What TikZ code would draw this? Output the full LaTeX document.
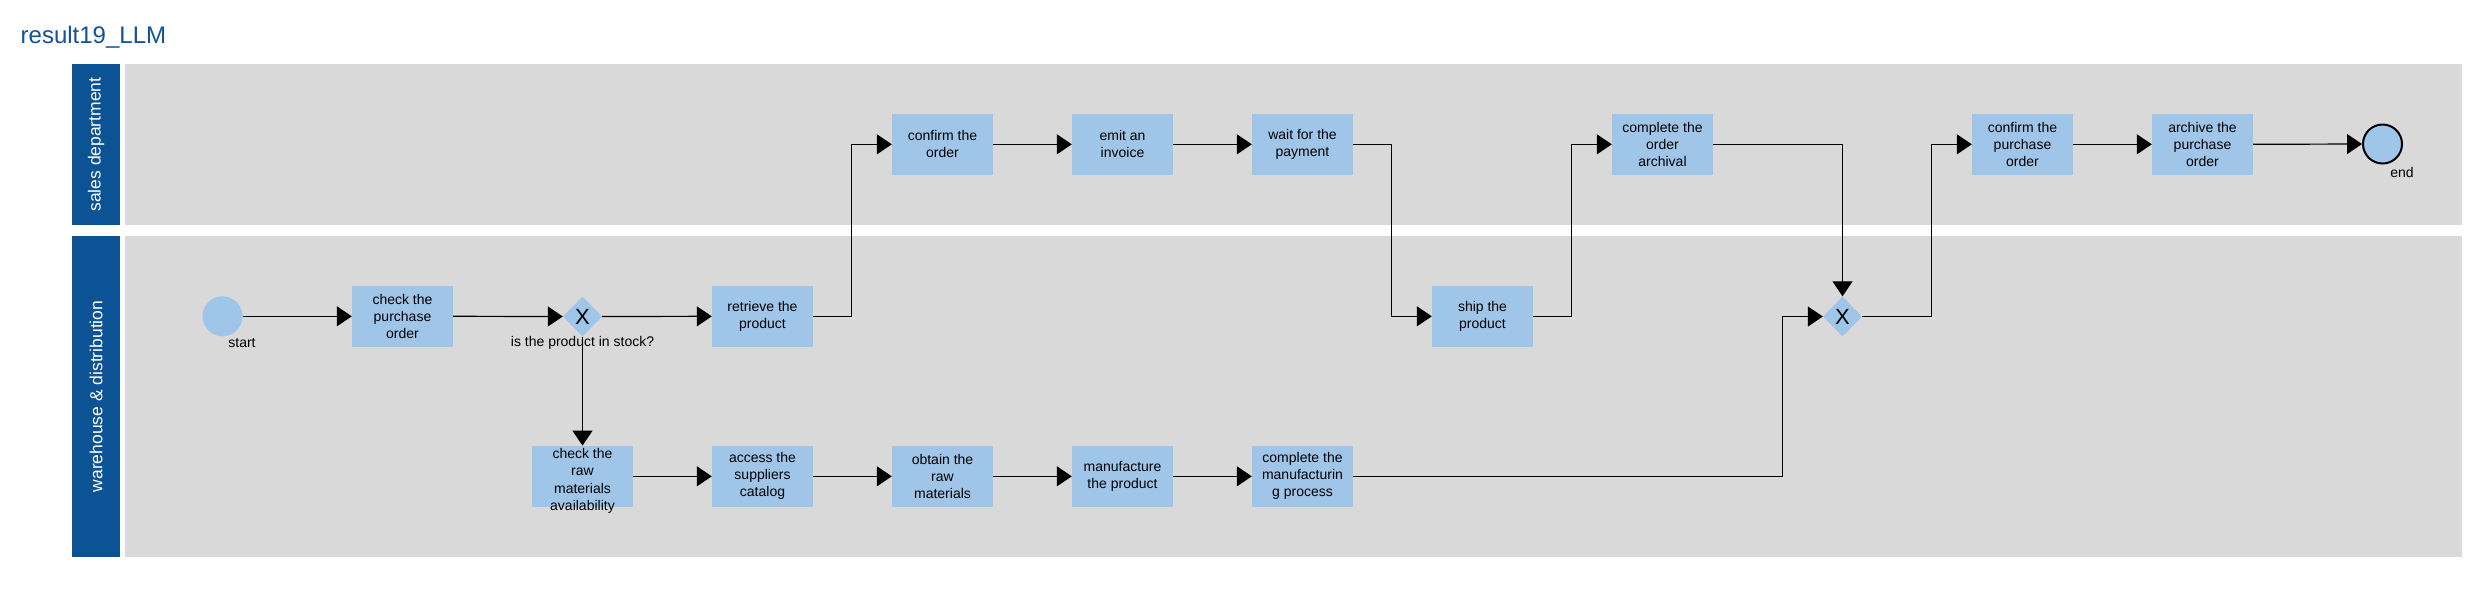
\documentclass[tikz,border=0pt]{standalone}
\usepackage{fontspec}
\setmainfont{Liberation Sans}
\usepackage{tikz}
\usetikzlibrary{arrows.meta,shapes.geometric}
\definecolor{lanehead}{HTML}{0B5394}
\definecolor{lanebody}{HTML}{D9D9D9}
\definecolor{taskblue}{HTML}{9FC5E8}
\definecolor{titleblue}{HTML}{11529A}
\tikzset{
	task/.style={fill=taskblue, minimum width=101pt, minimum height=61pt, inner sep=0pt, align=center, font=\fontsize{14}{17}\selectfont},
	tasktext/.style={inner sep=0pt, align=center, font=\fontsize{14}{17.5}\selectfont},
	gate/.style={diamond, fill=taskblue, minimum width=39pt, minimum height=40pt, inner sep=0pt, font=\fontsize{22}{24}\selectfont},
	startev/.style={circle, fill=taskblue, minimum size=40pt, inner sep=0pt},
	endev/.style={circle, draw=black, line width=2pt, fill=taskblue, minimum size=39pt, inner sep=0pt},
	evlabel/.style={inner sep=0pt, font=\fontsize{14}{17}\selectfont},
	flow/.style={line width=1.2pt, -{Triangle[length=15pt,width=20pt]}},
	lanetitle/.style={rotate=90, inner sep=0pt, text=white, font=\fontsize{17.5}{20}\selectfont}
}

\begin{document}
\begin{tikzpicture}[x=1pt, y=-1pt]
			%%%%% START %%%%%
			
			\fill[white] (0, 0) rectangle (2479, 598);
			\useasboundingbox (0, 0) rectangle (2479, 598);
			
			\node[anchor=base west, inner sep=0pt, text=titleblue, font=\fontsize{24}{28}\selectfont] (title) at (20.5, 43.3) {result19\_LLM};
			
			% lanes
			\fill[lanehead] (72, 64) rectangle (120, 225);
			\fill[lanebody] (125, 64) rectangle (2462, 225);
			\node[lanetitle] (salestitle) at (96, 144.5) {sales department};
			
			\fill[lanehead] (72, 236) rectangle (120, 557);
			\fill[lanebody] (125, 236) rectangle (2462, 557);
			\node[lanetitle] (warehousetitle) at (96, 396.5) {warehouse \& distribution};
			
			% sales department
			\node[task] (confirmorder) at (942.5, 144.3) {confirm the\\order};
			\node[task] (invoice) at (1122.5, 144.3) {emit an\\invoice};
			\node[task] (payment) at (1302.5, 144.3) {wait for the\\payment};
			\node[task] (archival) at (1662.5, 144.3) {complete the\\order\\archival};
			\node[task] (confirmpo) at (2022.5, 144.3) {confirm the\\purchase\\order};
			\node[task] (archivepo) at (2202.5, 144.3) {archive the\\purchase\\order};
			\node[endev] (endevent) at (2382.5, 144) {};
			\node[evlabel] (endlabel) at (2402, 172) {end};
			
			% warehouse & distribution
			\node[startev] (startevent) at (222.5, 316.3) {};
			\node[evlabel] (startlabel) at (242, 343) {start};
			\node[task] (checkpo) at (402.5, 316.3) {check the\\purchase\\order};
			\node[gate] (gwstock) at (582.5, 316.5) {X};
			\node[evlabel] (stocklabel) at (582.5, 343) {is the product in stock?};
			\node[task] (retrieve) at (762.5, 316.3) {retrieve the\\product};
			\node[task] (ship) at (1482.5, 316.3) {ship the\\product};
			\node[gate] (gwmerge) at (1842.5, 316.5) {X};
			
			\node[task] (rawcheck) at (582.5, 476.3) {};
			\node[tasktext] (rawchecktext) at (582.5, 481) {check the\\raw\\materials\\availability};
			\node[task] (catalog) at (762.5, 476.3) {access the\\suppliers\\catalog};
			\node[task] (rawget) at (942.5, 476.3) {obtain the\\raw\\materials};
			\node[task] (manufacture) at (1122.5, 476.3) {manufacture\\the product};
			\node[task] (mfgdone) at (1302.5, 476.3) {complete the\\manufacturin\\g process};
			
			% flows
			\draw[flow] (startevent.east) -- (checkpo.west);
			\draw[flow] (checkpo.east) -- (gwstock.west);
			\draw[flow] (gwstock.east) -- (retrieve.west);
			\draw[flow] (gwstock.south) -- (rawcheck.north);
			\draw[flow] (retrieve.east) -| ([xshift=-40pt]confirmorder.west) -- (confirmorder.west);
			\draw[flow] (confirmorder.east) -- (invoice.west);
			\draw[flow] (invoice.east) -- (payment.west);
			\draw[flow] (payment.east) -| ([xshift=-40pt]ship.west) -- (ship.west);
			\draw[flow] (ship.east) -| ([xshift=-40pt]archival.west) -- (archival.west);
			\draw[flow] (archival.east) -| (gwmerge.north);
			
			\draw[flow] (rawcheck.east) -- (catalog.west);
			\draw[flow] (catalog.east) -- (rawget.west);
			\draw[flow] (rawget.east) -- (manufacture.west);
			\draw[flow] (manufacture.east) -- (mfgdone.west);
			\draw[flow] (mfgdone.east) -| ([xshift=-40pt]gwmerge.west) -- (gwmerge.west);
			
			\draw[flow] (gwmerge.east) -| ([xshift=-40pt]confirmpo.west) -- (confirmpo.west);
			\draw[flow] (confirmpo.east) -- (archivepo.west);
			\draw[flow] (archivepo.east) -- (endevent.west);
			
			%%%%% END %%%%%
\end{tikzpicture}
\end{document}
